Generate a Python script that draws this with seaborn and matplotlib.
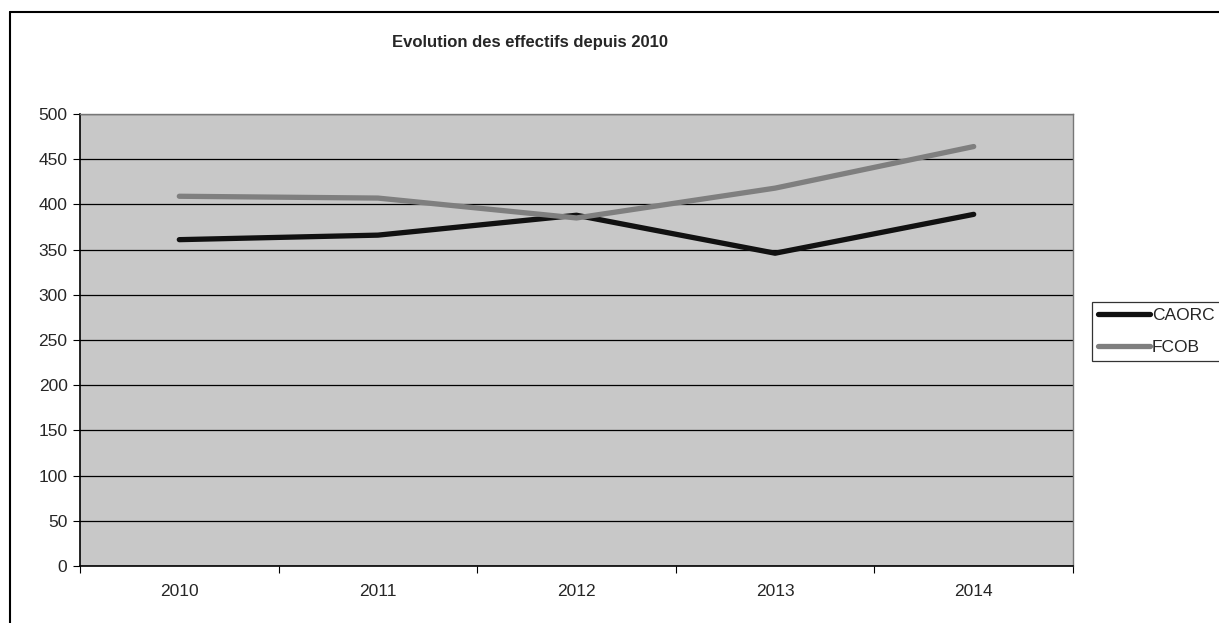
import numpy as np
import pandas as pd
import matplotlib
matplotlib.use("Agg")
import matplotlib.pyplot as plt
from matplotlib.lines import Line2D
import seaborn as sns

# =========================
# DATA
# =========================
years = ["2010", "2011", "2012", "2013", "2014"]
caorc = [361, 366, 388, 346, 389]
fcob = [409, 407, 385, 418, 464]
series_names = ["CAORC", "FCOB"]
series_colors = ["#111111", "#7f7f7f"]
y_ticks = list(range(0, 501, 50))

df = pd.DataFrame({
    "annee": years * 2,
    "effectif": caorc + fcob,
    "serie": [series_names[0]] * len(years) + [series_names[1]] * len(years),
})

# =========================
# FIGURE
# =========================
sns.set_style("white")
plt.rcParams["font.family"] = ["Liberation Sans", "DejaVu Sans"]

W, H = 1219, 623
fig = plt.figure(figsize=(W / 100, H / 100), dpi=100)
ax = fig.add_axes([80 / W, 1 - 566 / H, (1073 - 80) / W, (566 - 114) / H])
ax.set_facecolor("#c8c8c8")

sns.lineplot(data=df, x="annee", y="effectif", hue="serie",
             palette=dict(zip(series_names, series_colors)),
             linewidth=3.8, ax=ax, legend=False, sort=False)

ax.set_xlim(-0.5, len(years) - 0.5)
ax.set_ylim(0, 500)
ax.set_yticks(y_ticks)
ax.grid(axis="y", color="black", linewidth=0.9)
ax.set_axisbelow(True)

# Excel-like ticks: labels centred, marks on category boundaries
ax.set_xticks(range(len(years)))
ax.set_xticklabels(years)
ax.set_xticks(np.arange(-0.5, len(years), 1), minor=True)
ax.tick_params(axis="x", which="major", length=0, pad=13, labelsize=12.5)
ax.tick_params(axis="x", which="minor", length=5, width=0.8, direction="out", color="black")
ax.tick_params(axis="y", length=5, width=0.8, direction="out", color="black", labelsize=12.5, pad=4)
ax.xaxis.set_ticks_position("bottom")
ax.yaxis.set_ticks_position("left")
ax.set_xlabel("")
ax.set_ylabel("")

for side in ["top", "right"]:
    ax.spines[side].set_color("#777777")
    ax.spines[side].set_linewidth(1.0)
for side in ["left", "bottom"]:
    ax.spines[side].set_color("black")
    ax.spines[side].set_linewidth(1.2)

fig.text(530 / W, 1 - 42 / H, "Evolution des effectifs depuis 2010",
         ha="center", va="center", fontsize=12, fontweight="bold")

# legend
handles = [Line2D([0], [0], color=c, linewidth=3.8) for c in series_colors]
leg = fig.legend(handles, series_names, loc="upper left",
                 bbox_to_anchor=(1092 / W, 1 - 302 / H),
                 bbox_transform=fig.transFigure, frameon=True, fancybox=False,
                 fontsize=12.5, handlelength=3.0, handletextpad=0.1,
                 borderpad=0.35, labelspacing=0.95, borderaxespad=0)
leg.get_frame().set_edgecolor("black")
leg.get_frame().set_linewidth(0.9)

# outer frame of the chart
fig.add_artist(Line2D([10 / W, 10 / W], [0, 1 - 12 / H], color="black",
                      linewidth=1.5, transform=fig.transFigure))
fig.add_artist(Line2D([10 / W, 1], [1 - 12 / H, 1 - 12 / H], color="black",
                      linewidth=1.5, transform=fig.transFigure))

fig.savefig("out.png", dpi=100)
